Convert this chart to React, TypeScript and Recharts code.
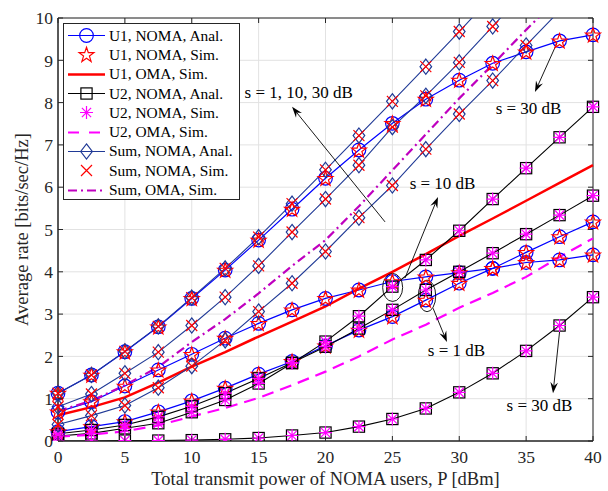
import {
  CartesianGrid,
  Label,
  Legend,
  Line,
  LineChart,
  ReferenceArea,
  ReferenceDot,
  ReferenceLine,
  XAxis,
  YAxis,
} from "recharts";

// transmit power grid (dBm)
const power = [0, 2.5, 5, 7.5, 10, 12.5, 15, 17.5, 20, 22.5, 25, 27.5, 30, 32.5, 35, 37.5, 40];

// U1 (near user), NOMA, analytical
const u1S1 = [0.22, 0.34, 0.46, 0.69, 0.95, 1.25, 1.58, 1.88, 2.25, 2.62, 2.94, 3.33, 3.73, 4.08, 4.46, 4.83, 5.18];
const u1S10 = [0.69, 0.93, 1.3, 1.68, 2.05, 2.43, 2.78, 3.1, 3.37, 3.57, 3.77, 3.88, 3.98, 4.08, 4.22, 4.28, 4.4];
const u1S30 = [1.13, 1.56, 2.11, 2.7, 3.37, 4.04, 4.75, 5.48, 6.21, 6.88, 7.51, 8.08, 8.53, 8.93, 9.2, 9.46, 9.6];

// U2, NOMA, analytical
const u2S1 = [0.17, 0.26, 0.38, 0.57, 0.82, 1.13, 1.48, 1.85, 2.23, 2.66, 3.1, 3.57, 4.0, 4.44, 4.89, 5.34, 5.8];
const u2S10 = [0.12, 0.18, 0.3, 0.42, 0.68, 0.97, 1.36, 1.84, 2.35, 2.95, 3.65, 4.28, 4.97, 5.72, 6.45, 7.18, 7.9];
const u2S30 = [0.0, 0.0, 0.01, 0.01, 0.02, 0.04, 0.07, 0.13, 0.2, 0.34, 0.52, 0.77, 1.15, 1.6, 2.13, 2.73, 3.4];

// sum rate, NOMA, analytical (runs off the top of the axes)
const sumS1 = [0.39, 0.6, 0.84, 1.26, 1.77, 2.38, 3.06, 3.73, 4.48, 5.28, 6.04, 6.9, 7.73, 8.52, 9.35, 10.17, 10.98];
const sumS10 = [0.81, 1.11, 1.6, 2.1, 2.73, 3.4, 4.14, 4.94, 5.72, 6.52, 7.42, 8.16, 8.95, 9.8, 10.67, 11.46, 12.3];
const sumS30 = [1.13, 1.56, 2.12, 2.71, 3.39, 4.08, 4.82, 5.61, 6.41, 7.22, 8.03, 8.85, 9.68, 10.53, 11.33, 12.19, 13.0];

// OMA baselines
const omaU1 = [0.61, 0.8, 1.03, 1.38, 1.76, 2.1, 2.47, 2.82, 3.18, 3.6, 4.0, 4.42, 4.85, 5.26, 5.68, 6.1, 6.52];
const omaU2 = [0.1, 0.15, 0.23, 0.37, 0.58, 0.78, 1.02, 1.32, 1.64, 2.0, 2.4, 2.75, 3.15, 3.5, 3.88, 4.35, 4.79];
const omaSum = [0.71, 0.95, 1.32, 1.75, 2.34, 2.88, 3.49, 4.14, 4.75, 5.55, 6.4, 7.25, 8.1, 8.9, 9.72, 10.5, 11.3];

const xTicks = [0, 5, 10, 15, 20, 25, 30, 35, 40];
const yTicks = [0, 1, 2, 3, 4, 5, 6, 7, 8, 9, 10];

// simulation markers sit on top of the analytical curves
const rows = power.map((p, i) => ({
  p,
  u1s1: u1S1[i],
  u1s10: u1S10[i],
  u1s30: u1S30[i],
  u2s1: u2S1[i],
  u2s10: u2S10[i],
  u2s30: u2S30[i],
  sums1: sumS1[i],
  sums10: sumS10[i],
  sums30: sumS30[i],
  omaU1: omaU1[i],
  omaU2: omaU2[i],
  omaSum: omaSum[i],
}));

const SERIF = '"Liberation Serif", "Times New Roman", Times, serif';
const BLUE = "#0000ff";
const RED = "#ff0000";
const BLACK = "#000000";
const MAGENTA = "#ff00ff";
const NAVY = "#203a96";
const PURPLE = "#bf00bf";
const AXIS = "#262626";

const W = 608;
const H = 491;
const MARGIN = { top: 18, right: 15, bottom: 0, left: 8 };
const Y_AXIS_W = 50;
const X_AXIS_H = 50;
const PLOT_LEFT = MARGIN.left + Y_AXIS_W;
const PLOT_RIGHT = W - MARGIN.right;
const PLOT_TOP = MARGIN.top;
const PLOT_BOTTOM = H - MARGIN.bottom - X_AXIS_H;
const TICK_LEN = 5;

type Kind = "circle" | "star" | "square" | "asterisk" | "diamond" | "cross";

function Marker({ kind, cx, cy, color }: { kind: Kind; cx: number; cy: number; color: string }) {
  const common = { fill: "none", stroke: color, strokeWidth: 1.2 };
  switch (kind) {
    case "circle":
      return <circle cx={cx} cy={cy} r={6.8} {...common} />;
    case "square":
      return <rect x={cx - 5.6} y={cy - 5.6} width={11.2} height={11.2} {...common} />;
    case "diamond":
      return (
        <polygon
          points={`${cx},${cy - 7.6} ${cx + 5.8},${cy} ${cx},${cy + 7.6} ${cx - 5.8},${cy}`}
          {...common}
        />
      );
    case "cross":
      return (
        <path
          d={`M${cx - 5.5},${cy - 5.5}L${cx + 5.5},${cy + 5.5}M${cx - 5.5},${cy + 5.5}L${cx + 5.5},${cy - 5.5}`}
          {...common}
        />
      );
    case "asterisk":
      return (
        <path
          d={`M${cx - 6.5},${cy}L${cx + 6.5},${cy}M${cx},${cy - 6.5}L${cx},${cy + 6.5}M${cx - 4.6},${cy - 4.6}L${cx + 4.6},${cy + 4.6}M${cx - 4.6},${cy + 4.6}L${cx + 4.6},${cy - 4.6}`}
          {...common}
        />
      );
    case "star": {
      const pts: string[] = [];
      for (let k = 0; k < 10; k++) {
        const a = (-90 + k * 36) * (Math.PI / 180);
        const rr = k % 2 === 0 ? 7.8 : 3.1;
        pts.push(`${(cx + rr * Math.cos(a)).toFixed(2)},${(cy + 0.6 + rr * Math.sin(a)).toFixed(2)}`);
      }
      return <polygon points={pts.join(" ")} {...common} />;
    }
  }
}

const dotOf = (kind: Kind, color: string) => (props: any) => {
  const { cx, cy, value, index, dataKey } = props;
  const v = typeof value === "number" ? value : props.payload?.[dataKey];
  if (cx == null || cy == null || v == null || v > 10)
    return <g key={`${kind}-${dataKey}-${index}`} />;
  return (
    <g key={`${kind}-${dataKey}-${index}`}>
      <Marker kind={kind} cx={cx} cy={cy} color={color} />
    </g>
  );
};

// MATLAB-style inward ticks on all four sides of the box
const XTick = (props: any) => {
  const { x, y, payload } = props;
  return (
    <g>
      <line x1={x} x2={x} y1={PLOT_BOTTOM} y2={PLOT_BOTTOM - TICK_LEN} stroke={AXIS} />
      <line x1={x} x2={x} y1={PLOT_TOP} y2={PLOT_TOP + TICK_LEN} stroke={AXIS} />
      <text x={x} y={y} dy="0.71em" textAnchor="middle" fontSize={17.5} fontFamily={SERIF} fill={AXIS}>
        {payload.value}
      </text>
    </g>
  );
};

const YTick = (props: any) => {
  const { x, y, payload } = props;
  return (
    <g>
      <line x1={PLOT_LEFT} x2={PLOT_LEFT + TICK_LEN} y1={y} y2={y} stroke={AXIS} />
      <line x1={PLOT_RIGHT} x2={PLOT_RIGHT - TICK_LEN} y1={y} y2={y} stroke={AXIS} />
      <text x={x} y={y} dy="0.355em" textAnchor="end" fontSize={17.5} fontFamily={SERIF} fill={AXIS}>
        {payload.value}
      </text>
    </g>
  );
};

const analU1 = ["u1s1", "u1s10", "u1s30"];
const analU2 = ["u2s1", "u2s10", "u2s30"];
const analSum = ["sums1", "sums10", "sums30"];

type LegendRow = {
  label: string;
  line?: { color: string; width: number; dash?: string };
  marker?: { kind: Kind; color: string };
};

const legendRows: LegendRow[] = [
  { label: "U1, NOMA, Anal.", line: { color: BLUE, width: 1.2 }, marker: { kind: "circle", color: BLUE } },
  { label: "U1, NOMA, Sim.", marker: { kind: "star", color: RED } },
  { label: "U1, OMA, Sim.", line: { color: RED, width: 2.4 } },
  { label: "U2, NOMA, Anal.", line: { color: BLACK, width: 1.2 }, marker: { kind: "square", color: BLACK } },
  { label: "U2, NOMA, Sim.", marker: { kind: "asterisk", color: MAGENTA } },
  { label: "U2, OMA, Sim.", line: { color: MAGENTA, width: 2.2, dash: "11 10" } },
  { label: "Sum, NOMA, Anal.", line: { color: NAVY, width: 1.2 }, marker: { kind: "diamond", color: NAVY } },
  { label: "Sum, NOMA, Sim.", marker: { kind: "cross", color: RED } },
  { label: "Sum, OMA, Sim.", line: { color: PURPLE, width: 2.2, dash: "9 4 2 4" } },
];

function LegendBox() {
  return (
    <div
      style={{
        border: `1px solid ${AXIS}`,
        background: "#fff",
        width: 177,
        height: 177,
        paddingTop: 2,
        boxSizing: "border-box",
        fontFamily: SERIF,
        fontSize: 15.4,
        color: "#000",
      }}
    >
      {legendRows.map((r) => (
        <div key={r.label} style={{ display: "flex", alignItems: "center", height: 19.3 }}>
          <svg width={37} height={19} style={{ marginLeft: 4, marginRight: 4, flex: "none" }}>
            {r.line && (
              <line
                x1={0}
                y1={9.5}
                x2={37}
                y2={9.5}
                stroke={r.line.color}
                strokeWidth={r.line.width}
                strokeDasharray={r.line.dash}
              />
            )}
            {r.marker && <Marker kind={r.marker.kind} cx={18.5} cy={9.5} color={r.marker.color} />}
          </svg>
          <span style={{ whiteSpace: "nowrap" }}>{r.label}</span>
        </div>
      ))}
    </div>
  );
}

const arrowShape = (props: any) => {
  const { x1, y1, x2, y2 } = props;
  const ang = Math.atan2(y2 - y1, x2 - x1);
  const len = 11;
  const half = 3.8;
  const bx = x2 - len * Math.cos(ang);
  const by = y2 - len * Math.sin(ang);
  const nx = x2 - 0.65 * len * Math.cos(ang);
  const ny = y2 - 0.65 * len * Math.sin(ang);
  const p1 = `${bx - half * Math.sin(ang)},${by + half * Math.cos(ang)}`;
  const p2 = `${bx + half * Math.sin(ang)},${by - half * Math.cos(ang)}`;
  return (
    <g>
      <line x1={x1} y1={y1} x2={nx} y2={ny} stroke="#000" strokeWidth={0.9} />
      <polygon points={`${x2},${y2} ${p1} ${nx},${ny} ${p2}`} fill="#000" />
    </g>
  );
};

// annotation positions in data units
const arrows = [
  { from: { x: 24.45, y: 5.18 }, to: { x: 17.5, y: 7.9 } },
  { from: { x: 37.31, y: 9.41 }, to: { x: 35.66, y: 8.25 } },
  { from: { x: 25.94, y: 3.85 }, to: { x: 28.41, y: 5.77 } },
  { from: { x: 28.04, y: 3.14 }, to: { x: 29.08, y: 2.34 } },
  { from: { x: 37.53, y: 2.67 }, to: { x: 37.01, y: 1.13 } },
];

const notes = [
  { x: 18.0, y: 8.23, text: "s = 1, 10, 30 dB" },
  { x: 35.18, y: 7.86, text: "s = 30 dB" },
  { x: 28.75, y: 6.09, text: "s = 10 dB" },
  { x: 29.79, y: 2.15, text: "s = 1 dB" },
  { x: 36.0, y: 0.85, text: "s = 30 dB" },
];

const ellipses = [
  { x: 25.02, y: 3.63, rx: 10, ry: 14 },
  { x: 27.59, y: 3.43, rx: 8.7, ry: 15.8 },
];

export default function App() {
  return (
    <div style={{ position: "absolute", left: 0, top: 0, width: W, height: H, background: "#fff" }}>
      <LineChart width={W} height={H} data={rows} margin={MARGIN}>
        <CartesianGrid stroke="#e2e2e2" strokeWidth={1} />
        <XAxis
          dataKey="p"
          type="number"
          domain={[0, 40]}
          ticks={xTicks}
          height={X_AXIS_H}
          tickLine={false}
          tickSize={6}
          tickMargin={4}
          axisLine={{ stroke: AXIS }}
          tick={XTick}
        >
          <Label
            content={({ viewBox }: any) => (
              <text
                x={viewBox.x + viewBox.width / 2}
                y={viewBox.y + 44}
                textAnchor="middle"
                fontSize={18.5}
                fontFamily={SERIF}
                fill={AXIS}
              >
                Total transmit power of NOMA users, P [dBm]
              </text>
            )}
          />
        </XAxis>
        <YAxis
          type="number"
          domain={[0, 10]}
          ticks={yTicks}
          allowDataOverflow
          width={Y_AXIS_W}
          tickLine={false}
          tickSize={3}
          tickMargin={2}
          axisLine={{ stroke: AXIS }}
          tick={YTick}
        >
          <Label
            content={({ viewBox }: any) => (
              <text
                transform={`translate(${viewBox.x + 20}, ${viewBox.y + viewBox.height / 2}) rotate(-90)`}
                textAnchor="middle"
                fontSize={18.5}
                fontFamily={SERIF}
                fill={AXIS}
              >
                Average rate [bits/sec/Hz]
              </text>
            )}
          />
        </YAxis>
        <ReferenceArea x1={0} x2={40} y1={0} y2={10} fill="none" stroke={AXIS} strokeWidth={1} />

        {analU1.map((k) => (
          <Line key={`a-${k}`} dataKey={k} type="linear" stroke={BLUE} strokeWidth={1.2} dot={dotOf("circle", BLUE)} isAnimationActive={false} />
        ))}
        {analU1.map((k) => (
          <Line key={`s-${k}`} dataKey={k} type="linear" stroke="none" dot={dotOf("star", RED)} isAnimationActive={false} />
        ))}
        <Line dataKey="omaU1" type="linear" stroke={RED} strokeWidth={2.5} dot={false} isAnimationActive={false} />

        {analU2.map((k) => (
          <Line key={`a-${k}`} dataKey={k} type="linear" stroke={BLACK} strokeWidth={1.1} dot={dotOf("square", BLACK)} isAnimationActive={false} />
        ))}
        {analU2.map((k) => (
          <Line key={`s-${k}`} dataKey={k} type="linear" stroke="none" dot={dotOf("asterisk", MAGENTA)} isAnimationActive={false} />
        ))}
        <Line dataKey="omaU2" type="linear" stroke={MAGENTA} strokeWidth={2.2} strokeDasharray="12 7" dot={false} isAnimationActive={false} />

        {analSum.map((k) => (
          <Line key={`a-${k}`} dataKey={k} type="linear" stroke={NAVY} strokeWidth={1.1} dot={dotOf("diamond", NAVY)} isAnimationActive={false} />
        ))}
        {analSum.map((k) => (
          <Line key={`s-${k}`} dataKey={k} type="linear" stroke="none" dot={dotOf("cross", RED)} isAnimationActive={false} />
        ))}
        <Line dataKey="omaSum" type="linear" stroke={PURPLE} strokeWidth={2.2} strokeDasharray="9 4 2 4" dot={false} isAnimationActive={false} />

        {arrows.map((a, i) => (
          <ReferenceLine key={`arr-${i}`} segment={[a.from, a.to]} shape={arrowShape} />
        ))}
        {ellipses.map((e, i) => (
          <ReferenceDot
            key={`ell-${i}`}
            x={e.x}
            y={e.y}
            shape={(p: any) => (
              <ellipse cx={p.cx} cy={p.cy} rx={e.rx} ry={e.ry} fill="none" stroke="#000" strokeWidth={0.9} />
            )}
          />
        ))}
        {notes.map((n, i) => (
          <ReferenceDot
            key={`note-${i}`}
            x={n.x}
            y={n.y}
            shape={(p: any) => (
              <text
                x={p.cx}
                y={p.cy}
                textAnchor="middle"
                dominantBaseline="central"
                fontSize={17}
                fontFamily={SERIF}
                fill="#000"
              >
                {n.text}
              </text>
            )}
          />
        ))}

        <Legend
          layout="vertical"
          align="center"
          verticalAlign="middle"
          content={() => <LegendBox />}
          wrapperStyle={{ left: 63, top: 23, width: 177, height: 177 }}
        />
      </LineChart>
    </div>
  );
}
